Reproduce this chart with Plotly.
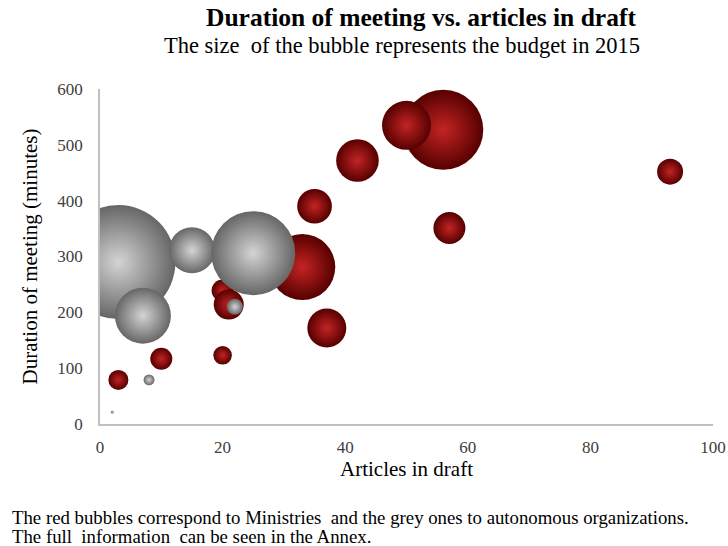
import plotly.graph_objects as go

# Ministries (red bubbles)
min_articles = [3, 10, 20, 20, 21, 33, 56, 50, 42, 37, 35, 57, 93]
min_duration = [79, 117, 123, 239, 214, 281, 527, 535, 472, 172, 390, 351, 452]
min_budget = [100, 121, 86, 121, 225, 1089, 1600, 600, 454, 380, 300, 256, 169]

# Autonomous organizations (grey bubbles)
org_articles = [2, 8, 3, 7, 15, 25, 22]
org_duration = [21, 79, 290, 194, 311, 306, 210]
org_budget = [2, 30, 3249, 784, 529, 1764, 64]

x_ticks = [0, 20, 40, 60, 80, 100]
y_ticks = [0, 100, 200, 300, 400, 500, 600]

SERIF = "Liberation Serif, Times New Roman, serif"

fig = go.Figure()
fig.add_trace(go.Scatter(
    x=min_articles, y=min_duration, mode="markers", name="Ministries",
    marker=dict(size=min_budget, sizemode="area", sizeref=0.5,
                color="#560000",
                gradient=dict(type="radial", color="#c42424"),
                line=dict(width=0), opacity=1),
    hoverinfo="x+y", cliponaxis=True,
))
fig.add_trace(go.Scatter(
    x=org_articles, y=org_duration, mode="markers", name="Autonomous organizations",
    marker=dict(size=org_budget, sizemode="area", sizeref=0.5,
                color="#666666",
                gradient=dict(type="radial", color="#d4d4d4"),
                line=dict(width=0), opacity=1),
    hoverinfo="x+y", cliponaxis=True,
))

fig.update_layout(
    width=728, height=546,
    margin=dict(l=100, r=15, t=89, b=122, autoexpand=False),
    paper_bgcolor="white", plot_bgcolor="white",
    showlegend=False,
    font=dict(family=SERIF, color="#000000"),
    xaxis=dict(range=[0, 100], tickvals=x_ticks, showgrid=False, zeroline=False,
               showline=True, linecolor="#c0c0c0", linewidth=1.5, ticks="",
               ticklabelstandoff=7, automargin=False,
               tickfont=dict(size=17, color="#404040"),
               title=dict(text="Articles in draft", font=dict(size=21, color="#000000"), standoff=2)),
    yaxis=dict(range=[0, 600], tickvals=y_ticks, showgrid=False, zeroline=False,
               showline=True, linecolor="#c0c0c0", linewidth=1.5, ticks="",
               ticklabelstandoff=12, automargin=False,
               tickfont=dict(size=17, color="#404040"),
               title=dict(text="Duration of meeting (minutes)", font=dict(size=21, color="#000000"), standoff=14)),
    annotations=[
        dict(text="<b>Duration of meeting vs. articles in draft</b>", xref="paper", yref="paper",
             x=0.524, y=1.212, xanchor="center", yanchor="middle", showarrow=False,
             font=dict(size=25.5, family=SERIF, color="#000000")),
        dict(text="The size  of the bubble represents the budget in 2015", xref="paper", yref="paper",
             x=0.493, y=1.131, xanchor="center", yanchor="middle", showarrow=False,
             font=dict(size=22.5, family=SERIF, color="#000000")),
        dict(text="The red bubbles correspond to Ministries  and the grey ones to autonomous organizations.",
             xref="paper", yref="paper", x=-0.147, y=-0.278, xanchor="left", yanchor="middle",
             showarrow=False, font=dict(size=18.8, family=SERIF, color="#000000")),
        dict(text="The full  information  can be seen in the Annex.",
             xref="paper", yref="paper", x=-0.147, y=-0.337, xanchor="left", yanchor="middle",
             showarrow=False, font=dict(size=18.8, family=SERIF, color="#000000")),
    ],
)

fig.write_html("out.html", config={"displayModeBar": False},
               post_script="document.body.style.margin='0';")
